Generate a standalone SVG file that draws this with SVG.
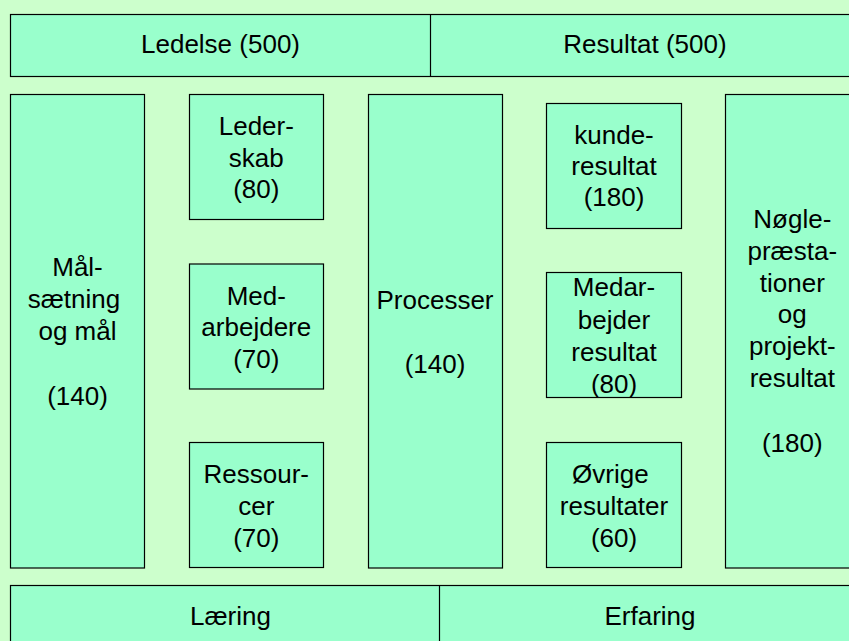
<svg xmlns="http://www.w3.org/2000/svg" width="849" height="641" viewBox="0 0 849 641">
<style>
.b{fill:#99FFCC;stroke:#000;stroke-width:1.2}
.t{font-family:"Liberation Sans",Arial,sans-serif;font-size:26px;fill:#000;text-anchor:middle}
</style>
<rect x="0" y="0" width="849" height="641" fill="#CCFFCC"/>
<g id="top-bar">
<rect class="b" x="10.5" y="14.5" width="850" height="62"/>
<line x1="430.5" y1="14.5" x2="430.5" y2="76.5" stroke="#000" stroke-width="1.2"/>
<text class="t" x="220.5" y="53.3">Ledelse (500)</text>
<text class="t" x="645" y="53.3">Resultat (500)</text>
</g>
<g id="maalsaetning">
<rect class="b" x="10.5" y="94.5" width="134" height="473.5"/>
<text class="t" x="77.5" y="275.7">Mål-</text>
<text class="t" x="73.9" y="307.8">sætning</text>
<text class="t" x="77.5" y="339.5">og mål</text>
<text class="t" x="77.5" y="405">(140)</text>
</g>
<g id="lederskab">
<rect class="b" x="189.5" y="94.5" width="134" height="125"/>
<text class="t" x="256.3" y="135">Leder-</text>
<text class="t" x="256.3" y="166.5">skab</text>
<text class="t" x="256.3" y="198">(80)</text>
</g>
<g id="medarbejdere">
<rect class="b" x="189.5" y="264" width="134" height="125"/>
<text class="t" x="256.3" y="305">Med-</text>
<text class="t" x="256.3" y="336">arbejdere</text>
<text class="t" x="256.3" y="367.8">(70)</text>
</g>
<g id="ressourcer">
<rect class="b" x="189.5" y="442.5" width="134" height="125"/>
<text class="t" x="256.3" y="483.3">Ressour-</text>
<text class="t" x="256.3" y="515">cer</text>
<text class="t" x="256.3" y="546.7">(70)</text>
</g>
<g id="processer">
<rect class="b" x="368.5" y="94.5" width="134" height="473.5"/>
<text class="t" x="435" y="309">Processer</text>
<text class="t" x="435" y="373.3">(140)</text>
</g>
<g id="kunderesultat">
<rect class="b" x="546.5" y="103.5" width="135" height="125"/>
<text class="t" x="614" y="144">kunde-</text>
<text class="t" x="614" y="175">resultat</text>
<text class="t" x="614" y="206">(180)</text>
</g>
<g id="medarbejderresultat">
<rect class="b" x="546.5" y="272.5" width="135" height="125"/>
<text class="t" x="614" y="296">Medar-</text>
<text class="t" x="614" y="328.5">bejder</text>
<text class="t" x="614" y="361">resultat</text>
<text class="t" x="614" y="392.7">(80)</text>
</g>
<g id="oevrige">
<rect class="b" x="546.5" y="442.5" width="135" height="125"/>
<text class="t" x="610.4" y="483.3">Øvrige</text>
<text class="t" x="614" y="515">resultater</text>
<text class="t" x="614" y="546.7">(60)</text>
</g>
<g id="noegle">
<rect class="b" x="725.5" y="94.5" width="140" height="473.5"/>
<text class="t" x="792.3" y="228.3">Nøgle-</text>
<text class="t" x="792.3" y="260">præsta-</text>
<text class="t" x="792.3" y="291.7">tioner</text>
<text class="t" x="792.3" y="323.4">og</text>
<text class="t" x="792.3" y="355.1">projekt-</text>
<text class="t" x="792.3" y="386.8">resultat</text>
<text class="t" x="792.3" y="452">(180)</text>
</g>
<g id="bottom-bar">
<rect class="b" x="10.5" y="585.5" width="850" height="70"/>
<line x1="439.5" y1="585.5" x2="439.5" y2="641" stroke="#000" stroke-width="1.2"/>
<text class="t" x="230.5" y="625">Læring</text>
<text class="t" x="650" y="625">Erfaring</text>
</g>
<g id="connectors"/>
</svg>
